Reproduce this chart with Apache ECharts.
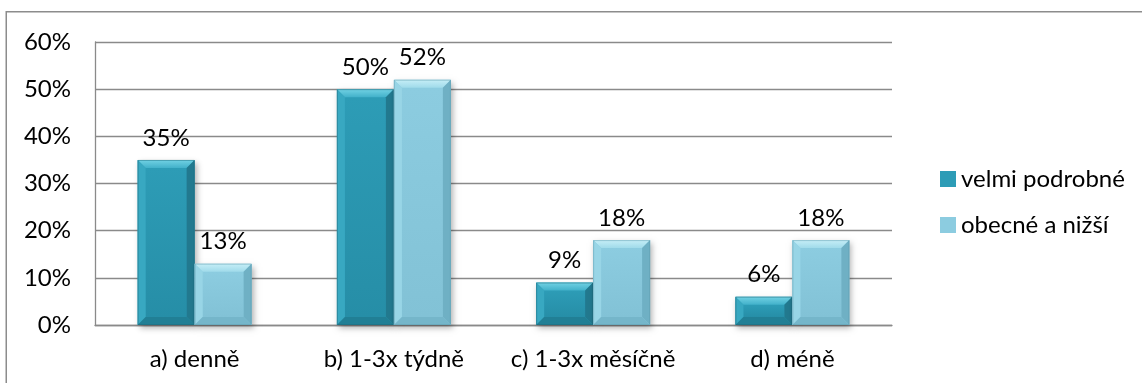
<!DOCTYPE html>
<html>
<head>
<meta charset="utf-8">
<script src="https://cdn.jsdelivr.net/npm/echarts@6/dist/echarts.min.js"></script>
<style>
  html, body { margin: 0; padding: 0; background: #ffffff; }
  #chart { width: 1142px; height: 383px; }
</style>
</head>
<body>
<div id="chart"></div>
<script>
// Frequency categories and percentage shares per group
const categories = ['a) denně', 'b) 1-3x týdně', 'c) 1-3x měsíčně', 'd) méně'];
const seriesNames = ['velmi podrobné', 'obecné a nižší'];
const velmiPodrobne = [35, 50, 9, 6];
const obecneANizsi = [13, 52, 18, 18];
const yTicks = [0, 10, 20, 30, 40, 50, 60];

const FONT = 'Lato, "Open Sans", sans-serif';
const FONT_SIZE = 24;

// Face colours for the bevelled bars
const palettes = [
  { front: '#2d9cb6', frontBottom: '#268ea7', topA: '#72d2e4', topB: '#42b1ca', left: '#38a8c1', right: '#22798f', bottom: '#217f95', outline: '#1d6b7e' },
  { front: '#8ccce0', frontBottom: '#82c2d6', topA: '#c6eef7', topB: '#a0dbea', left: '#98d5e6', right: '#6fb0c4', bottom: '#75b6ca', outline: '#5f9db0' }
];

// Share of the category band occupied by one bar
const BAR_SHARE = 0.286;
const BEVEL = 8;

function bevelBar(seriesIndex) {
  const pal = palettes[seriesIndex];
  return function (params, api) {
    const cat = api.value(0);
    const val = api.value(1);
    const base = api.coord([cat, 0]);
    const topPt = api.coord([cat, val]);
    const band = api.size([1, 0])[0];
    const w = band * BAR_SHARE;
    const x0 = base[0] - w + seriesIndex * w;
    const x1 = x0 + w;
    const y0 = topPt[1];
    const y1 = base[1];
    const h = y1 - y0;
    const b = Math.min(BEVEL, h / 2, w / 2);

    const children = [
      // soft drop shadow
      { type: 'rect', shape: { x: x0, y: y0, width: w, height: h },
        style: { fill: pal.front, shadowBlur: 6, shadowOffsetX: 2, shadowOffsetY: 3, shadowColor: 'rgba(0,0,0,0.3)' } },
      // front face
      { type: 'rect', shape: { x: x0 + b, y: y0 + b, width: w - 2 * b, height: h - 2 * b },
        style: { fill: new echarts.graphic.LinearGradient(0, 0, 0, 1, [
          { offset: 0, color: pal.front }, { offset: 1, color: pal.frontBottom }]) } },
      // top bevel
      { type: 'polygon', shape: { points: [[x0, y0], [x1, y0], [x1 - b, y0 + b], [x0 + b, y0 + b]] },
        style: { fill: new echarts.graphic.LinearGradient(0, 0, 0, 1, [
          { offset: 0, color: pal.topA }, { offset: 1, color: pal.topB }]) } },
      // left bevel
      { type: 'polygon', shape: { points: [[x0, y0], [x0 + b, y0 + b], [x0 + b, y1 - b], [x0, y1]] },
        style: { fill: pal.left } },
      // right bevel
      { type: 'polygon', shape: { points: [[x1, y0], [x1, y1], [x1 - b, y1 - b], [x1 - b, y0 + b]] },
        style: { fill: pal.right } },
      // bottom bevel
      { type: 'polygon', shape: { points: [[x0, y1], [x0 + b, y1 - b], [x1 - b, y1 - b], [x1, y1]] },
        style: { fill: pal.bottom } },
      // outline
      { type: 'rect', shape: { x: x0 + 0.5, y: y0 + 0.5, width: w - 1, height: h - 1 },
        style: { fill: null, stroke: pal.outline, lineWidth: 1, opacity: 0.5 } },
      // value label
      { type: 'text', x: (x0 + x1) / 2, y: y0 - 10,
        style: { text: val + '%', fill: '#000', font: FONT_SIZE + 'px ' + FONT, align: 'center', verticalAlign: 'bottom' } }
    ];
    return { type: 'group', children };
  };
}

function toData(values) {
  return values.map((v, i) => [i, v]);
}

const chart = echarts.init(document.getElementById('chart'), null, { renderer: 'canvas' });

chart.setOption({
  animation: false,
  backgroundColor: '#ffffff',
  textStyle: { fontFamily: FONT },
  graphic: [{
    type: 'rect', silent: true, z: -10,
    shape: { x: 6.25, y: 11.75, width: 1300, height: 500 },
    style: { fill: null, stroke: '#8c8c8c', lineWidth: 1.5 }
  }],
  grid: { left: 95, right: 250, top: 42, bottom: 58 },
  legend: {
    orient: 'vertical',
    left: 935,
    top: 162,
    itemWidth: 16,
    itemHeight: 16,
    itemGap: 22,
    icon: 'rect',
    textStyle: { fontFamily: FONT, fontSize: FONT_SIZE, color: '#000' },
    data: seriesNames
  },
  xAxis: {
    type: 'category',
    data: categories,
    axisLine: { lineStyle: { color: '#8a8a8a', width: 1.3 } },
    axisTick: { show: false },
    axisLabel: { color: '#000', fontFamily: FONT, fontSize: FONT_SIZE, margin: 22, interval: 0 }
  },
  yAxis: {
    type: 'value',
    min: yTicks[0],
    max: yTicks[yTicks.length - 1],
    interval: yTicks[1] - yTicks[0],
    axisLine: { show: true, lineStyle: { color: '#8a8a8a', width: 1.3 } },
    axisTick: { show: false },
    splitLine: { lineStyle: { color: '#8a8a8a', width: 1.3 } },
    axisLabel: { color: '#000', fontFamily: FONT, fontSize: FONT_SIZE, margin: 24, formatter: '{value}%' }
  },
  series: [
    { name: seriesNames[0], type: 'custom', renderItem: bevelBar(0), data: toData(velmiPodrobne),
      itemStyle: { color: palettes[0].front }, encode: { x: 0, y: 1 }, z: 5 },
    { name: seriesNames[1], type: 'custom', renderItem: bevelBar(1), data: toData(obecneANizsi),
      itemStyle: { color: palettes[1].front }, encode: { x: 0, y: 1 }, z: 5 }
  ]
});
</script>
</body>
</html>
